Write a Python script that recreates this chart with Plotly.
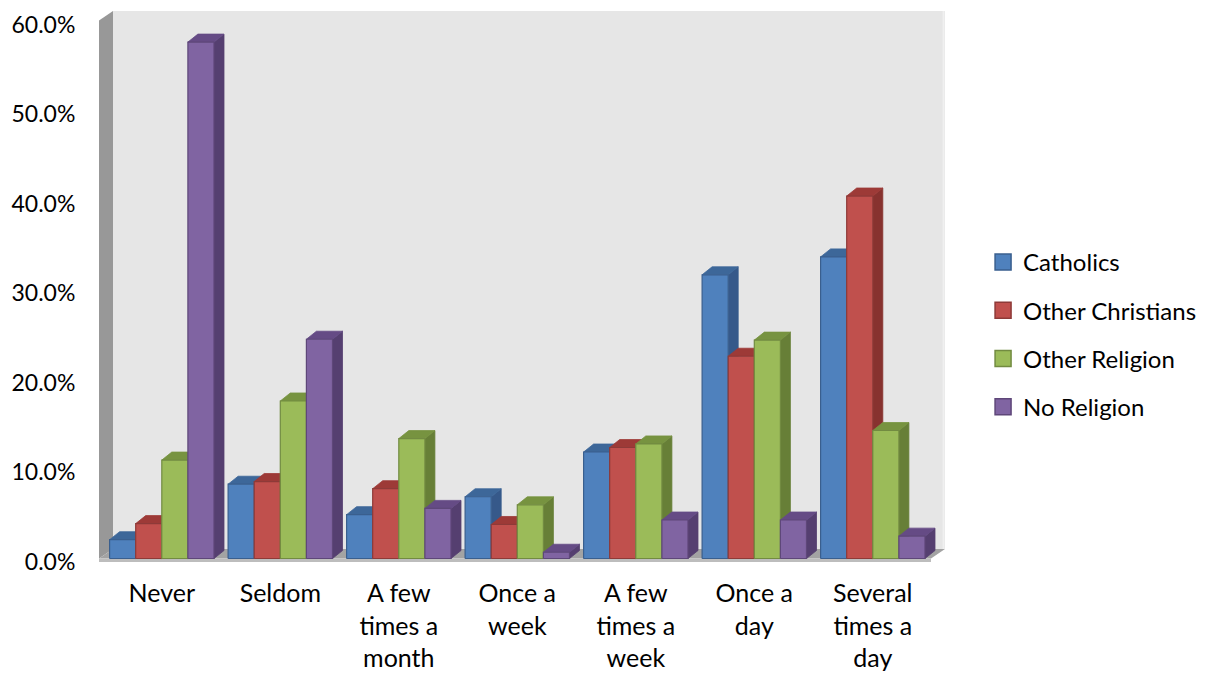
import plotly.graph_objects as go

# ---------------- data ----------------
categories = ["Never", "Seldom", "A few<br>times a<br>month", "Once a<br>week",
              "A few<br>times a<br>week", "Once a<br>day", "Several<br>times a<br>day"]
series_names = ["Catholics", "Other Christians", "Other Religion", "No Religion"]
catholics = [2.1, 8.3, 4.9, 6.9, 11.9, 31.7, 33.7]
other_christians = [3.9, 8.6, 7.8, 3.8, 12.4, 22.6, 40.5]
other_religion = [11.0, 17.6, 13.4, 6.0, 12.8, 24.4, 14.3]
no_religion = [57.7, 24.5, 5.6, 0.7, 4.3, 4.3, 2.5]
y_ticks = [0, 10, 20, 30, 40, 50, 60]
y_tick_labels = ["0.0%", "10.0%", "20.0%", "30.0%", "40.0%", "50.0%", "60.0%"]

series_values = [catholics, other_christians, other_religion, no_religion]

# ---------------- styles ----------------
front_colors = ["#4F81BD", "#C0504D", "#9BBB59", "#8064A2"]
side_colors = ["#36598A", "#87322F", "#677F37", "#553F70"]
top_colors = ["#3D6799", "#9D3A37", "#779340", "#654B85"]
edge_colors = ["#3A5F8E", "#8E3A38", "#728B41", "#5E4779"]
FONT = "Lato"

# the page body has an 8px default margin -> compensate
OFF = 8
FIG_W, FIG_H = 1205 - OFF, 675 - OFF

# pixel calibration of the pseudo-3D box (reference-window pixels)
L_PX, R_PX, T_PX, B_PX = 99, 945, 11, 562
C0_PX, STEP_PX = 161.8, 118.5           # category centre / spacing (px)
ZERO_PX, PX_PER_UNIT = 558.5, 8.95      # y=0 pixel, px per percent
x_range = [(L_PX - C0_PX) / STEP_PX, (R_PX - C0_PX) / STEP_PX]
y_range = [(ZERO_PX - B_PX) / PX_PER_UNIT, (ZERO_PX - T_PX) / PX_PER_UNIT]

bar_w = 26.1 / STEP_PX
group_w = 4 * bar_w
bdx, bdy = 10 / STEP_PX, 8 / PX_PER_UNIT        # bar depth offset
wdx, wdy = 14 / STEP_PX, 9.5 / PX_PER_UNIT      # wall depth offset

fig = go.Figure()

for j, (name, vals) in enumerate(zip(series_names, series_values)):
    fx, fy, sx, sy, tx, ty = [], [], [], [], [], []
    for i, v in enumerate(vals):
        x0 = i - group_w / 2 + j * bar_w
        x1 = x0 + bar_w
        fx += [x0, x1, x1, x0, x0, None]
        fy += [0, 0, v, v, 0, None]
        sx += [x1, x1 + bdx, x1 + bdx, x1, x1, None]
        sy += [0, bdy, v + bdy, v, 0, None]
        tx += [x0, x0 + bdx, x1 + bdx, x1, x0, None]
        ty += [v, v + bdy, v + bdy, v, v, None]
    fig.add_trace(go.Scatter(x=sx, y=sy, mode="lines", fill="toself",
                             fillcolor=side_colors[j],
                             line=dict(color=side_colors[j], width=0.8),
                             showlegend=False, hoverinfo="skip"))
    fig.add_trace(go.Scatter(x=tx, y=ty, mode="lines", fill="toself",
                             fillcolor=top_colors[j],
                             line=dict(color=top_colors[j], width=0.8),
                             showlegend=False, hoverinfo="skip"))
    fig.add_trace(go.Scatter(x=fx, y=fy, mode="lines", fill="toself",
                             fillcolor=front_colors[j],
                             line=dict(color=edge_colors[j], width=1.2),
                             showlegend=False, name=name,
                             hovertemplate="%{y}<extra>" + name + "</extra>"))

# legend entries
for j, name in enumerate(series_names):
    fig.add_trace(go.Scatter(x=[None], y=[None], mode="markers", name=name,
                             legendgroup=name,
                             marker=dict(symbol="square", size=16,
                                         color=front_colors[j],
                                         line=dict(color=edge_colors[j], width=1.5))))

# walls / floor
xL, xR = x_range
yB, yT = y_range
shapes = [
    dict(type="path", path=f"M {xL + wdx},{wdy} L {xR},{wdy} L {xR},{yT} L {xL + wdx},{yT} Z",
         fillcolor="#E6E6E6", line=dict(width=0), layer="below"),
    dict(type="line", x0=xR - 0.012, x1=xR - 0.012, y0=wdy, y1=yT,
         line=dict(color="#F0F0F0", width=2), layer="below"),
    dict(type="path", path=f"M {xL},0 L {xL},{yT - wdy} L {xL + wdx},{yT} L {xL + wdx},{wdy} Z",
         fillcolor="#989898", line=dict(width=0), layer="below"),
    dict(type="path", path=f"M {xL},0 L {xR - wdx},0 L {xR},{wdy} L {xL + wdx},{wdy} Z",
         fillcolor="#A3A3A3", line=dict(width=0), layer="below"),
    dict(type="path", path=f"M {xL},0 L {xR - wdx},0 L {xR - wdx},{yB} L {xL},{yB} Z",
         fillcolor="#BDBDBD", line=dict(width=0), layer="below"),
]

fig.update_layout(
    template="none",
    width=FIG_W, height=FIG_H,
    margin=dict(l=L_PX - OFF, r=FIG_W - (R_PX - OFF), t=T_PX - OFF,
                b=FIG_H - (B_PX - OFF), pad=0, autoexpand=False),
    paper_bgcolor="white", plot_bgcolor="white",
    font=dict(family=FONT, size=24, color="#000000"),
    shapes=shapes,
    showlegend=True,
    legend=dict(x=1.045, xanchor="left", y=0.413, yanchor="middle",
                traceorder="grouped", tracegroupgap=14,
                font=dict(family=FONT, size=24, color="#000000"),
                bgcolor="rgba(0,0,0,0)", borderwidth=0, itemwidth=30),
    xaxis=dict(range=x_range, tickmode="array", tickvals=list(range(len(categories))),
               ticktext=categories, showgrid=False, zeroline=False, showline=False,
               ticks="outside", ticklen=9, tickcolor="rgba(0,0,0,0)", automargin=False,
               tickfont=dict(family=FONT, size=25, color="#000000"), fixedrange=True),
    yaxis=dict(range=y_range, tickmode="array", tickvals=y_ticks,
               ticktext=y_tick_labels, showgrid=False, zeroline=False,
               showline=False, ticks="outside", ticklen=18, tickcolor="rgba(0,0,0,0)",
               automargin=False, ticklabeloverflow="allow", ticklabelshift=3,
               tickfont=dict(family=FONT, size=23, color="#000000"), fixedrange=True),
)

fig.write_html("out.html")
